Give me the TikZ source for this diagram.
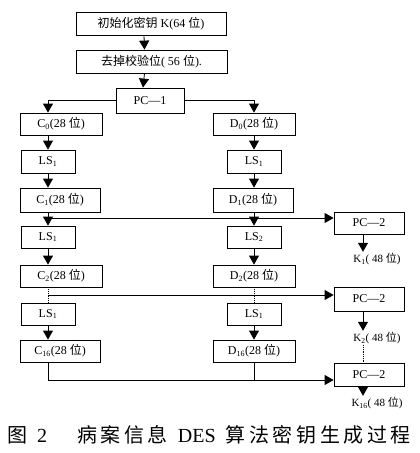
\documentclass[tikz,border=0pt]{standalone}
\usepackage{fontspec}
\setmainfont{Liberation Serif}
\newfontfamily\cjk{Noto Sans CJK SC}
\newfontfamily\capcjk[LetterSpace=18]{Noto Sans CJK SC}
\usetikzlibrary{arrows.meta}
\newcommand\wei{{\cjk 位}}
\tikzset{
	box/.style={draw, inner sep=0pt, minimum height=23pt, font=\fontsize{12}{12}\selectfont},
	arr/.style={-{Triangle[width=10pt,length=9pt]}},
	klabel/.style={inner sep=1pt, font=\fontsize{11}{11}\selectfont}
}
\begin{document}
\begin{tikzpicture}[x=1pt, y=-1pt, line width=0.8pt]
	\useasboundingbox (0,0) rectangle (420,453);
	\node[box, minimum width=150pt] (init) at (151,23.5) {{\cjk 初始化密钥} K(64 \wei)}; %clave inicial
	\node[box, minimum width=151pt] (drop) at (151.5,61.5) {{\cjk 去掉校验位}( 56 \wei ).}; %sin paridad
	\node[box, minimum width=68pt, minimum height=25pt] (pc1) at (150,100.5) {PC—1};
	\node[box, minimum width=82pt, minimum height=22pt] (c0) at (61,124) {C\textsubscript{0}(28 \wei)};
	\node[box, minimum width=82pt, minimum height=22pt] (d0) at (254,124) {D\textsubscript{0}(28 \wei)};
	\node[box, minimum width=54pt] (la) at (48,161.5) {LS\textsubscript{1}};
	\node[box, minimum width=54pt] (ra) at (254,161.5) {LS\textsubscript{1}};
	\node[box, minimum width=80pt, minimum height=24pt] (c1) at (60,200) {C\textsubscript{1}(28 \wei)};
	\node[box, minimum width=80pt, minimum height=24pt] (d1) at (253,200) {D\textsubscript{1}(28 \wei)};
	\node[box, minimum width=54pt, minimum height=22pt] (lb) at (48,237) {LS\textsubscript{1}};
	\node[box, minimum width=54pt, minimum height=22pt] (rb) at (254,237) {LS\textsubscript{2}};
	\node[box, minimum width=82pt, minimum height=22pt] (c2) at (61,276) {C\textsubscript{2}(28 \wei)};
	\node[box, minimum width=82pt, minimum height=22pt] (d2) at (254,276) {D\textsubscript{2}(28 \wei)};
	\node[box, minimum width=54pt, minimum height=22pt] (lc) at (48,314) {LS\textsubscript{1}};
	\node[box, minimum width=54pt, minimum height=22pt] (rc) at (254,314) {LS\textsubscript{1}};
	\node[box, minimum width=80pt, minimum height=22pt] (c16) at (60,351) {C\textsubscript{16}(28 \wei)};
	\node[box, minimum width=82pt, minimum height=22pt] (d16) at (254,351) {D\textsubscript{16}(28 \wei)};
	\node[box, minimum width=70pt, minimum height=22pt] (pA) at (369,223) {PC—2};
	\node[box, minimum width=70pt, minimum height=24pt] (pB) at (369,299) {PC—2};
	\node[box, minimum width=70pt, minimum height=23pt] (pC) at (369,374.5) {PC—2};
	\node[klabel] (kA) at (377,259) {K\textsubscript{1}( 48 \wei )};
	\node[klabel] (kB) at (377,338) {K\textsubscript{2}( 48 \wei )};
	\node[klabel] (kC) at (377,403) {K\textsubscript{16}( 48 \wei )};
	\coordinate (fa) at (48,218);
	\coordinate (fb) at (48,295);
	\coordinate (fz) at (48,380);
	% flechas
	\draw[arr] ([xshift=-7pt]init.south) -- ([xshift=-7pt]drop.north);
	\draw[arr] ([xshift=-7pt]drop.south) -- ([xshift=-7pt]pc1.north);
	\draw[arr] (pc1.west) -| (c0.north -| la);
	\draw[arr] (pc1.east) -| (d0);
	\draw[arr] (c0.south -| la) -- (la);
	\draw[arr] (d0) -- (ra);
	\draw[arr] (la) -- (c1.north -| la);
	\draw[arr] (ra) -- (ra |- d1.north);
	\draw[arr] (c1.south -| lb) -- (lb);
	\draw[arr] (ra |- d1.south) -- (rb);
	\draw[arr] (fa) -- (fa -| pA.west); %a PC-2
	\draw[arr] (lb) -- (c2.north -| lb);
	\draw[arr] (rb) -- (d2);
	\draw[densely dotted] (c2.south -| lc) -- (lc);
	\draw[densely dotted] (d2) -- (rc);
	\draw[arr] (fb) -- (fb -| pB.west);
	\draw[arr] (lc) -- (c16.north -| lc);
	\draw[arr] (rc) -- (d16);
	\draw[arr] (c16.south -| lc) -- (fz) -- (fz -| pC.west);
	\draw (d16) -- (d16 |- fz);
	\draw[arr] ([xshift=-6pt]pA.south) -- ([xshift=-6pt]pA.south |- kA.north);
	\draw[arr] ([xshift=-6pt]pB.south) -- ([xshift=-6pt]pB.south |- kB.north);
	\draw[densely dotted] ([xshift=-6pt]pB.south |- kB.south) -- ([xshift=-6pt]pC.north);
	\draw[arr] ([xshift=-6pt]pC.south) -- ([xshift=-6pt]pC.south |- kC.north);
	\node[font=\fontsize{20}{20}\selectfont] (cap) at (209,435) {{\capcjk 图}\enspace 2\quad\enspace{\capcjk 病案信息}\enspace DES\enspace{\capcjk 算法密钥生成过程}}; %pie
\end{tikzpicture}
\end{document}
